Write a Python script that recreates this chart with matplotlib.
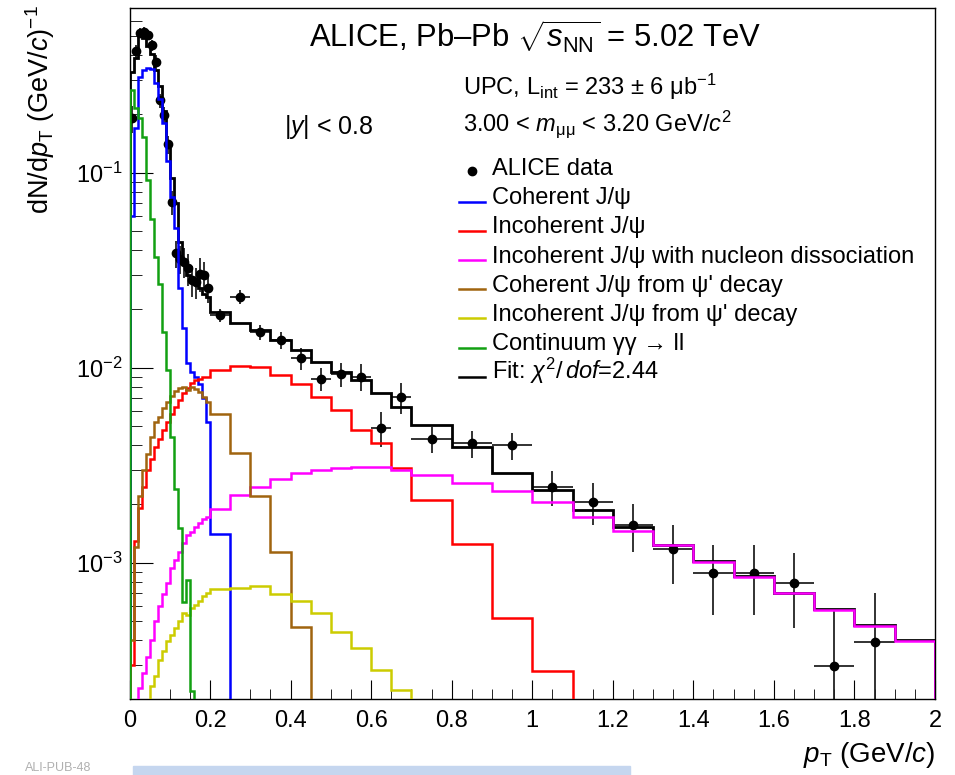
import numpy as np
import matplotlib
matplotlib.use("Agg")
import matplotlib.pyplot as plt
from matplotlib.ticker import MultipleLocator, LogLocator, NullFormatter, FuncFormatter
from matplotlib.lines import Line2D
from matplotlib.patches import Rectangle

plt.rcParams['font.family'] = ['Liberation Sans', 'DejaVu Sans']
plt.rcParams['mathtext.fontset'] = 'custom'
plt.rcParams['mathtext.rm'] = 'Liberation Sans'
plt.rcParams['mathtext.it'] = 'Liberation Sans:italic'
plt.rcParams['mathtext.bf'] = 'Liberation Sans:bold'

# bin edges: 10 MeV bins up to 0.2, 50 MeV up to 0.7, 100 MeV up to 2 GeV/c
edges = np.concatenate([np.linspace(0, 0.2, 21),
                        np.linspace(0.25, 0.7, 10),
                        np.linspace(0.8, 2.0, 13)])

# templates (0 = below the visible range)
coh = [0.06, 0.17, 0.31, 0.335, 0.345, 0.34, 0.29, 0.24, 0.18, 0.115,
       0.075, 0.052, 0.0255, 0.0159, 0.0106, 0.0095, 0.0090, 0.0083, 0.0070, 0.0053,
       0.0014, 0, 0, 0, 0, 0, 0, 0, 0, 0,
       0, 0, 0, 0, 0, 0, 0, 0, 0, 0, 0, 0, 0]
incoh = [0.0003, 0.0013, 0.0019, 0.00245, 0.0030, 0.0034, 0.0039, 0.0043, 0.0048, 0.0053,
         0.0058, 0.0063, 0.0068, 0.0074, 0.0079, 0.0084, 0.0087, 0.0088, 0.0090, 0.0090,
         0.0097, 0.0102, 0.0101, 0.0092, 0.0083, 0.0071, 0.0061, 0.0048, 0.0041, 0.00305,
         0.0021, 0.00125, 0.00052, 0.00028, 0, 0, 0, 0, 0, 0, 0, 0, 0]
diss = [0, 0, 0.000228, 0.000272, 0.00033, 0.0004, 0.0005, 0.0006, 0.00069, 0.00079,
        0.00094, 0.00103, 0.00114, 0.00126, 0.00139, 0.00144, 0.00153, 0.00159, 0.00167, 0.00172,
        0.00188, 0.00223, 0.00245, 0.0027, 0.00287, 0.00299, 0.00305, 0.0031, 0.0031, 0.0030,
        0.00283, 0.00256, 0.00232, 0.00206, 0.00172, 0.00146, 0.00123, 0.00101, 0.000844,
        0.000698, 0.000574, 0.000475, 0.000395]
coh_feed = [0.0004, 0.0012, 0.0022, 0.0030, 0.0036, 0.0044, 0.0053, 0.0056, 0.0062, 0.0067,
            0.0072, 0.0076, 0.0079, 0.0080, 0.0077, 0.0080, 0.0078, 0.0075, 0.0071, 0.0067,
            0.0058, 0.00364, 0.0022, 0.00114, 0.00047, 0, 0, 0, 0, 0,
            0, 0, 0, 0, 0, 0, 0, 0, 0, 0, 0, 0, 0]
incoh_feed = [0, 0, 0, 0, 0, 0.000232, 0.000261, 0.000318, 0.000351, 0.000395,
              0.000427, 0.000462, 0.0005, 0.000552, 0.000542, 0.000585, 0.000608, 0.000633, 0.000676, 0.000703,
              0.000733, 0.00074, 0.000762, 0.00069, 0.000633, 0.000552, 0.000439, 0.000365, 0.000283, 0.000223,
              0, 0, 0, 0, 0, 0, 0, 0, 0, 0, 0, 0, 0]
gamgam = [0.265, 0.215, 0.19, 0.152, 0.092, 0.058, 0.037, 0.027, 0.0153, 0.0097,
          0.0044, 0.0024, 0.0015, 0.00063, 0.00082, 0.00022, 0, 0, 0, 0,
          0, 0, 0, 0, 0, 0, 0, 0, 0, 0,
          0, 0, 0, 0, 0, 0, 0, 0, 0, 0, 0, 0, 0]
fit = [0.33, 0.39, 0.50, 0.49, 0.445, 0.405, 0.337, 0.278, 0.207, 0.138,
       0.094, 0.070, 0.044, 0.034, 0.030, 0.028, 0.027, 0.0255, 0.024, 0.023,
       0.0194, 0.0169, 0.0156, 0.0139, 0.0123, 0.0107, 0.0095, 0.0087, 0.0074, 0.0063,
       0.0051, 0.0039, 0.00289, 0.00235, 0.00187, 0.00152, 0.00124, 0.00102, 0.00085,
       0.0007, 0.00058, 0.00048, 0.0004]

# ALICE data per bin (nan = no point)
data = [0.19, 0.42, 0.52, 0.53, 0.51, 0.45, 0.37, 0.235, 0.197, 0.14,
        0.071, 0.0386, 0.0363, 0.035, 0.0323, 0.0281, 0.0276, 0.0304, 0.0299, 0.0255,
        0.0186, 0.0231, 0.0152, 0.0139, 0.0112, 0.0088, 0.0093, 0.0090, 0.0049, 0.0071,
        0.0043, 0.0041, 0.0040, 0.00245, 0.00206, 0.00157, 0.00117, 0.00089, 0.00089,
        0.00079, 0.000294, 0.00039, np.nan]
data_err = [0.03, 0.03, 0.03, 0.03, 0.03, 0.03, 0.03, 0.02, 0.02, 0.015,
            0.01, 0.006, 0.006, 0.006, 0.006, 0.005, 0.005, 0.006, 0.005, 0.004,
            0.0015, 0.0018, 0.0013, 0.0014, 0.0015, 0.0012, 0.0013, 0.0014, 0.0010, 0.0013,
            0.00065, 0.00065, 0.00065, 0.0005, 0.0005, 0.00044, 0.00039, 0.00035, 0.00035,
            0.00033, 0.00028, 0.00031, np.nan]

series = [
    ("Coherent J/\u03c8", coh, "#0000ff"),
    ("Incoherent J/\u03c8", incoh, "#ff0000"),
    ("Incoherent J/\u03c8 with nucleon dissociation", diss, "#ff00ff"),
    ("Coherent J/\u03c8 from \u03c8' decay", coh_feed, "#a0640f"),
    ("Incoherent J/\u03c8 from \u03c8' decay", incoh_feed, "#cccc00"),
    ("Continuum \u03b3\u03b3 \u2192 ll", gamgam, "#12a012"),
]

W, H = 955, 775
fig = plt.figure(figsize=(W / 100, H / 100), dpi=100)


def fx(px):
    return px / W


def fy(py):
    return 1 - py / H


ax = fig.add_axes([fx(129.5), fy(699), fx(935) - fx(129.5), fy(8) - fy(699)])
ax.set_xlim(0, 2)
ax.set_ylim(2e-4, 0.7)
ax.set_yscale('log')

floor = 1e-7
centers = 0.5 * (edges[:-1] + edges[1:])
halfw = 0.5 * np.diff(edges)
d = np.array(data)
de = np.array(data_err)
ok = ~np.isnan(d)
ax.errorbar(centers[ok], d[ok], xerr=halfw[ok], yerr=de[ok], fmt='o', color='black',
            ms=6, ecolor='#222222', elinewidth=1.3, capsize=0, zorder=2)

ax.stairs(np.maximum(fit, floor), edges, baseline=floor, color='black', lw=2.0, zorder=3)
order = [5, 0, 1, 3, 4, 2]
for i in order:
    lab, vals, col = series[i]
    ax.stairs(np.maximum(vals, floor), edges, baseline=floor, color=col, lw=1.8, zorder=4 + i)

ax.xaxis.set_major_locator(MultipleLocator(0.2))
ax.xaxis.set_minor_locator(MultipleLocator(0.05))
ax.xaxis.set_major_formatter(FuncFormatter(lambda v, p: f"{v:g}"))
ax.yaxis.set_major_locator(LogLocator(base=10))
ax.yaxis.set_minor_locator(LogLocator(base=10, subs=np.arange(2, 10)))
ax.yaxis.set_minor_formatter(NullFormatter())
ax.tick_params(which='both', direction='in', top=False, right=False, labelsize=17)
ax.tick_params(axis='x', which='major', length=14, pad=8)
ax.tick_params(axis='x', which='minor', length=7)
ax.tick_params(axis='y', which='major', length=16.5, pad=5)
ax.tick_params(axis='y', which='minor', length=8.5)
for s in ax.spines.values():
    s.set_linewidth(1.0)

# labels and annotations
fig.text(fx(57), fy(5), r'dN/d$p_{\mathrm{T}}$ (GeV/$c$)$^{-1}$', rotation=90,
         ha='right', va='top', fontsize=19.5)
fig.text(fx(935), fy(762), r'$p_{\mathrm{T}}$ (GeV/$c$)', ha='right', va='baseline', fontsize=20)
fig.text(fx(309), fy(47.3), '\u0041LICE, Pb\u2013Pb $\\sqrt{s_{\\mathrm{NN}}}$ = 5.02 TeV',
         ha='left', va='baseline', fontsize=22.3)
fig.text(fx(463), fy(95), r'UPC, L$_{\mathrm{int}}$ = 233 $\pm$ 6 $\mathrm{\mu}$b$^{-1}$',
         ha='left', va='baseline', fontsize=17)
fig.text(fx(463), fy(131), r'3.00 < $m_{\mathrm{\mu\mu}}$ < 3.20 GeV/$c^{2}$',
         ha='left', va='baseline', fontsize=17)
fig.text(fx(284), fy(134), r'|$y$| < 0.8', ha='left', va='baseline', fontsize=18)

# legend drawn by hand to match the ROOT layout
base0 = 175
step = 29.2
fig.add_artist(Line2D([fx(471.7)], [fy(base0 - 4)], marker='o', ms=6, color='black',
                      transform=fig.transFigure))
fig.text(fx(491.5), fy(base0), 'ALICE data', ha='left', va='baseline', fontsize=17)
legend_rows = [series[0], series[1], series[2], series[3], series[4], series[5],
               (r'Fit: $\chi^{2}/\,dof$=2.44', None, 'black')]
for k, (lab, _, col) in enumerate(legend_rows):
    yb = base0 + step * (k + 1)
    fig.add_artist(Line2D([fx(459), fx(484.5)], [fy(yb - 2.5), fy(yb - 2.5)], color=col,
                          lw=1.8, transform=fig.transFigure))
    fig.text(fx(491.5), fy(yb), lab, ha='left', va='baseline', fontsize=17)

# bottom strip of the original screenshot
fig.text(fx(25), fy(774), 'ALI-PUB-48', ha='left', va='bottom', fontsize=9, color='#b0b0b0')
fig.add_artist(Rectangle((fx(133), 0), fx(630) - fx(133), fy(766), transform=fig.transFigure,
                         color='#c5d6ef', zorder=10))

fig.savefig('out.png', dpi=100)
